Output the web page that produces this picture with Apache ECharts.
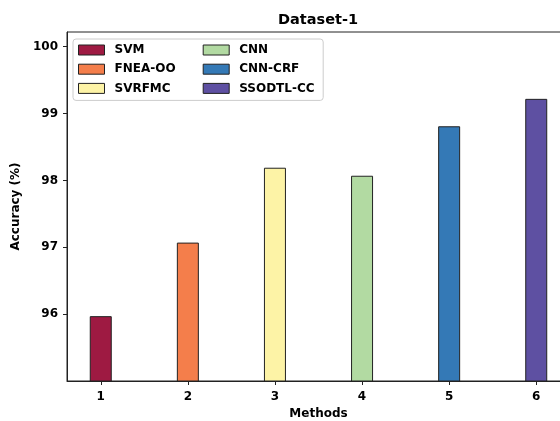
<!DOCTYPE html>
<html>
<head>
<meta charset="utf-8">
<script src="https://cdn.jsdelivr.net/npm/echarts@6/dist/echarts.min.js"></script>
<style>
  html, body { margin: 0; padding: 0; background: #ffffff; }
  #chart { width: 560px; height: 421px; }
</style>
</head>
<body>
<div id="chart"></div>
<script>
// Accuracy of each method on Dataset-1
const methods = ['SVM', 'FNEA-OO', 'SVRFMC', 'CNN', 'CNN-CRF', 'SSODTL-CC'];
const positions = [1, 2, 3, 4, 5, 6];
const accuracy = [95.97, 97.07, 98.19, 98.07, 98.81, 99.22];
const colors = ['#9e1a42', '#f47e4b', '#fdf3a6', '#b2daa2', '#3479b6', '#5e50a2'];
const xTicks = [1, 2, 3, 4, 5, 6];
const yTicks = [96, 97, 98, 99, 100];

const FONT = 'DejaVu Sans';
const INK = '#000000';
const EDGE = '#222222';

const chart = echarts.init(document.getElementById('chart'), null, { renderer: 'canvas' });

const series = methods.map((name, i) => ({
  name: name,
  type: 'bar',
  data: [[positions[i], accuracy[i]]],
  barWidth: 22,
  barGap: '-100%',
  itemStyle: { color: colors[i], borderColor: EDGE, borderWidth: 1 },
  emphasis: { disabled: true },
  animation: false
}));

chart.setOption({
  animation: false,
  title: {
    text: 'Dataset-1',
    left: 278,
    top: 13,
    padding: 0,
    textStyle: { fontFamily: FONT, fontWeight: 'bold', fontSize: 14.5, color: INK }
  },
  legend: {
    orient: 'vertical',
    left: 73,
    top: 39,
    height: 53,
    padding: [4, 1, 5, 5],
    itemGap: 5.2,
    itemWidth: 26,
    itemHeight: 10,
    icon: 'rect',
    backgroundColor: 'rgba(255,255,255,0.8)',
    borderColor: '#cccccc',
    borderWidth: 1,
    borderRadius: 3,
    itemStyle: { borderColor: EDGE, borderWidth: 1 },
    textStyle: {
      fontFamily: FONT, fontWeight: 'bold', fontSize: 12, color: INK,
      lineHeight: 14, width: 83, padding: [0, 0, 0, 5]
    },
    data: methods
  },
  grid: {
    left: 67, top: 32, width: 503, height: 349,
    outerBoundsMode: 'none', containLabel: false,
    show: true, borderColor: EDGE, borderWidth: 1, backgroundColor: 'transparent'
  },
  xAxis: {
    type: 'value',
    min: 0.6125,
    max: 6.3875,
    name: 'Methods',
    nameLocation: 'middle',
    nameGap: 27,
    nameTextStyle: { fontFamily: FONT, fontWeight: 'bold', fontSize: 12, color: INK },
    axisLine: { show: true, lineStyle: { color: EDGE, width: 1 } },
    axisTick: { show: true, length: 4, inside: false, customValues: xTicks, lineStyle: { color: EDGE } },
    axisLabel: {
      customValues: xTicks, margin: 10,
      fontFamily: FONT, fontWeight: 'bold', fontSize: 12, color: INK
    },
    splitLine: { show: false }
  },
  yAxis: {
    type: 'value',
    min: 95,
    max: 100.22,
    name: 'Accuracy (%)',
    nameLocation: 'middle',
    nameGap: 40,
    nameTextStyle: { fontFamily: FONT, fontWeight: 'bold', fontSize: 12, color: INK },
    axisLine: { show: true, lineStyle: { color: EDGE, width: 1 } },
    axisTick: { show: true, length: 4, inside: false, customValues: yTicks, lineStyle: { color: EDGE } },
    axisLabel: {
      customValues: yTicks, margin: 9,
      fontFamily: FONT, fontWeight: 'bold', fontSize: 12, color: INK
    },
    splitLine: { show: false }
  },
  series: series
});
</script>
</body>
</html>
